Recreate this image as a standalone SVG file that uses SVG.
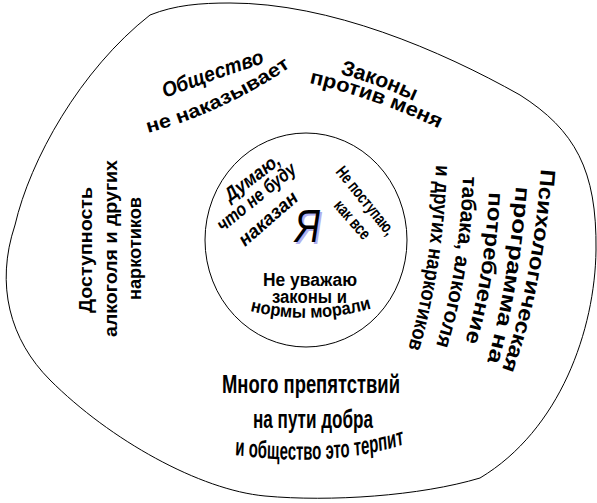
<svg xmlns="http://www.w3.org/2000/svg" width="597" height="503" viewBox="0 0 597 503">
<style>
text{font-family:"Liberation Sans",Arial,sans-serif;fill:#000}
.b{font-weight:bold}
.i{font-style:italic}
.shape{fill:#fff;stroke:#000;stroke-width:1}
</style>
<defs>
<path id="p1" d="M165,98 Q215,79 268,62"/>
<path id="p2" d="M148,133 Q225,112 292,66"/>
<path id="p3" d="M340,74 Q378,84 416,102"/>
<path id="p4" d="M309,83 Q375,98 442,130"/>
<path id="r1" d="M541,169 Q532,290 500,375"/>
<path id="r2" d="M516,186 Q508,290 486,366"/>
<path id="r3" d="M489,192 Q484,285 464,345"/>
<path id="r4" d="M463,176 Q459,275 435,349"/>
<path id="r5" d="M436,165 Q432,270 407,352"/>
<path id="m3" d="M250,311 Q311,326 373,308"/>
<path id="b3" d="M391.7,455 Q550,468 670,445"/>
</defs>
<rect width="597" height="503" fill="#fff"/>
<g id="outer">
<path class="shape" d="M230,3 C330,3 440,50 520,95 C575,130 597,170 596,250 C595,330 560,430 480,478 C420,496 330,502 265,496 C200,490 110,440 50,380 C10,340 -5,285 15,225 C30,160 80,70 150,15 C175,5 200,3 230,3 Z"/>
</g>
<g id="inner">
<ellipse class="shape" cx="306" cy="240" rx="101" ry="107"/>
</g>
<g id="society">
<text class="b i" font-size="21"><textPath href="#p1" textLength="106" lengthAdjust="spacingAndGlyphs">Общество</textPath></text>
<text class="b" font-size="19"><textPath href="#p2" textLength="158" lengthAdjust="spacingAndGlyphs">не наказывает</textPath></text>
</g>
<g id="laws">
<text class="b" font-size="21"><textPath href="#p3" textLength="79" lengthAdjust="spacingAndGlyphs">Законы</textPath></text>
<text class="b" font-size="20"><textPath href="#p4" textLength="138" lengthAdjust="spacingAndGlyphs">против меня</textPath></text>
</g>
<g id="availability" transform="rotate(-90)">
<text class="b" font-size="18" x="-313" y="92" textLength="126" lengthAdjust="spacingAndGlyphs">Доступность</text>
<text class="b" font-size="18" x="-337" y="117" textLength="177" lengthAdjust="spacingAndGlyphs">алкоголя и других</text>
<text class="b" font-size="18" x="-300" y="141" textLength="103" lengthAdjust="spacingAndGlyphs">наркотиков</text>
</g>
<g id="program">
<text class="b" font-size="21"><textPath href="#r1" textLength="205" lengthAdjust="spacingAndGlyphs">Психологическая</textPath></text>
<text class="b" font-size="21"><textPath href="#r2" textLength="178" lengthAdjust="spacingAndGlyphs">программа на</textPath></text>
<text class="b" font-size="21"><textPath href="#r3" textLength="152" lengthAdjust="spacingAndGlyphs">потребление</textPath></text>
<text class="b" font-size="21"><textPath href="#r4" textLength="172" lengthAdjust="spacingAndGlyphs">табака, алкоголя</textPath></text>
<text class="b" font-size="21"><textPath href="#r5" textLength="186" lengthAdjust="spacingAndGlyphs">и других наркотиков</textPath></text>
</g>
<g id="think">
<text class="b i" font-size="19" transform="translate(230,202) rotate(-37)" textLength="65" lengthAdjust="spacingAndGlyphs">Думаю,</text>
<text class="b i" font-size="19" transform="translate(223,232) rotate(-39)" textLength="96" lengthAdjust="spacingAndGlyphs">что не буду</text>
<text class="b i" font-size="19" transform="translate(245,247) rotate(-41)" textLength="72" lengthAdjust="spacingAndGlyphs">наказан</text>
</g>
<g id="notlike">
<text class="b" font-size="17" transform="translate(335,172) rotate(51)" textLength="83" lengthAdjust="spacingAndGlyphs">Не поступаю,</text>
<text class="b" font-size="17" transform="translate(333,206) rotate(49)" textLength="46" lengthAdjust="spacingAndGlyphs">как все</text>
</g>
<g id="ya">
<text class="i" font-size="47" x="297" y="244" textLength="25" lengthAdjust="spacingAndGlyphs" style="fill:#b0b0f0">Я</text>
<text class="i" font-size="47" x="295" y="242" textLength="25" lengthAdjust="spacingAndGlyphs">Я</text>
</g>
<g id="norespect">
<text class="b" font-size="18" x="263" y="286" textLength="94" lengthAdjust="spacingAndGlyphs">Не уважаю</text>
<text class="b" font-size="18" x="272" y="303" textLength="75" lengthAdjust="spacingAndGlyphs">законы и</text>
<text class="b" font-size="18"><textPath href="#m3" textLength="123" lengthAdjust="spacingAndGlyphs">нормы морали</textPath></text>
</g>
<g id="obstacles">
<text class="b" font-size="25" x="222" y="393" textLength="178" lengthAdjust="spacingAndGlyphs">Много препятствий</text>
<text class="b" font-size="25" x="253" y="428" textLength="120" lengthAdjust="spacingAndGlyphs">на пути добра</text>
<text class="b" font-size="25" transform="scale(0.6,1)"><textPath href="#b3">и общество это терпит</textPath></text>
</g>
</svg>
